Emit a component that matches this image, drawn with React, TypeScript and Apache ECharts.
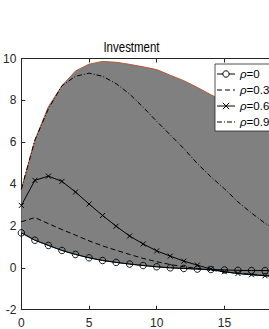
import React, { useEffect, useRef } from "react";
import * as echarts from "echarts";

const xs = [0, 1, 2, 3, 4, 5, 6, 7, 8, 9, 10, 11, 12, 13, 14, 15, 16, 17, 18, 19];
const rho0 = [1.67, 1.32, 1.07, 0.83, 0.64, 0.48, 0.35, 0.26, 0.18, 0.11, 0.05, 0.0, -0.03, -0.06, -0.08, -0.1, -0.12, -0.13, -0.13, -0.14];
const rho03 = [2.2, 2.4, 2.11, 1.83, 1.56, 1.29, 1.05, 0.84, 0.64, 0.45, 0.29, 0.16, 0.05, -0.03, -0.11, -0.19, -0.26, -0.31, -0.37, -0.41];
const rho06 = [2.98, 4.18, 4.38, 4.13, 3.62, 3.05, 2.5, 1.99, 1.52, 1.14, 0.81, 0.56, 0.32, 0.13, -0.06, -0.19, -0.27, -0.33, -0.38, -0.41];
const rho09 = [3.75, 6.1, 7.6, 8.7, 9.15, 9.3, 9.15, 8.8, 8.3, 7.67, 7.0, 6.35, 5.7, 4.98, 4.35, 3.78, 3.15, 2.62, 2.13, 1.7];
const bandHigh = [3.75, 6.1, 7.7, 8.7, 9.4, 9.73, 9.86, 9.82, 9.72, 9.6, 9.47, 9.2, 8.94, 8.62, 8.27, 7.95, 7.62, 7.3, 7.0, 6.7];
const bandLow = [1.67, 1.32, 1.07, 0.83, 0.64, 0.48, 0.35, 0.26, 0.18, 0.11, 0.05, 0.0, -0.03, -0.06, -0.1, -0.19, -0.27, -0.33, -0.38, -0.42];
const xTicks = { min: 0, max: 20, interval: 5 };
const yTicks = { min: -2, max: 10, interval: 2 };
const seriesNames = ["ρ=0", "ρ=0.3", "ρ=0.6", "ρ=0.9"];
const titleText = "Investment";

const FONT = "'Liberation Sans Narrow', 'Liberation Sans', Arial, sans-serif";
const AX = "#262626";

export default function App() {
  const ref = useRef<HTMLDivElement>(null);
  useEffect(() => {
    if (!ref.current) return;
    const chart = echarts.init(ref.current, undefined, { renderer: "svg" });
    const axisCommon = {
      axisLine: { show: true, onZero: false, lineStyle: { color: AX, width: 1 } },
      axisTick: { show: true, inside: true, length: 4, lineStyle: { color: AX } },
      splitLine: { show: false },
    };
    const lineSeries = (name: string, data: number[], extra: any) => ({
      name,
      type: "line",
      data: xs.map((x, i) => [x, data[i]]),
      lineStyle: { color: "#000", width: 1, ...(extra.lineStyle || {}) },
      itemStyle: { color: "#000", ...(extra.itemStyle || {}) },
      symbol: extra.symbol || "none",
      symbolSize: extra.symbolSize || 6,
      showSymbol: !!extra.symbol,
      z: 5,
      silent: true,
    });
    const hiddenMarker = { color: "rgba(0,0,0,0)", borderWidth: 0, borderColor: "rgba(0,0,0,0)" };
    chart.setOption({
      animation: false,
      textStyle: { fontFamily: FONT },
      grid: { left: 18.3, top: 58.5, width: 273.8, height: 251.2, containLabel: false },
      graphic: [
        {
          type: "text",
          x: 131.5,
          y: 47,
          scaleX: 0.82,
          style: { text: titleText, font: `14px ${FONT}`, fill: "#000", textAlign: "center", textVerticalAlign: "middle" },
        },
      ],
      xAxis: [
        {
          type: "value",
          position: "bottom",
          ...xTicks,
          ...axisCommon,
          axisLabel: { color: "#262626", fontSize: 12, fontFamily: FONT, margin: 7, showMaxLabel: false },
        },
        {
          type: "value",
          position: "top",
          ...xTicks,
          ...axisCommon,
          axisLabel: { show: false },
        },
      ],
      yAxis: [
        {
          type: "value",
          position: "left",
          ...yTicks,
          ...axisCommon,
          axisLabel: { color: "#262626", fontSize: 12, fontFamily: FONT, margin: 5 },
        },
        {
          type: "value",
          position: "right",
          ...yTicks,
          ...axisCommon,
          axisLabel: { show: false },
        },
      ],
      legend: {
        orient: "vertical",
        left: 215,
        top: 64,
        data: [
          { name: seriesNames[0], itemStyle: { color: "#fff", borderColor: "#000", borderWidth: 1 } },
          { name: seriesNames[1], itemStyle: hiddenMarker },
          { name: seriesNames[2], itemStyle: { color: "rgba(0,0,0,0)", borderColor: "#000", borderWidth: 1 } },
          { name: seriesNames[3], itemStyle: hiddenMarker },
        ],
        lineStyle: { width: 1 },
        backgroundColor: "#fff",
        borderColor: AX,
        borderWidth: 0.8,
        borderRadius: 0,
        padding: [3, 6, 2, 1.5],
        itemWidth: 18,
        itemHeight: 8,
        itemGap: 2,
        selectedMode: false,
        textStyle: {
          fontSize: 11.5,
          fontFamily: FONT,
          color: "#000",
          lineHeight: 14,
          rich: {
            i: { fontStyle: "italic", fontSize: 11.5, fontFamily: FONT, color: "#000" },
            n: { fontSize: 11.5, fontFamily: FONT, color: "#000" },
          },
        },
        formatter: (name: string) => `{i|ρ}{n|${name.slice(1)}}`,
        z: 20,
      },
      series: [
        {
          type: "custom",
          silent: true,
          z: 1,
          data: xs.map((x, i) => [x, bandHigh[i], bandLow[i]]),
          encode: { x: 0, y: [1, 2] },
          renderItem: (params: any, api: any) => {
            if (params.dataIndex !== 0) return null;
            const top = xs.map((x, i) => api.coord([x, bandHigh[i]]));
            const bot = xs.map((x, i) => api.coord([x, bandLow[i]]));
            return {
              type: "group",
              children: [
                { type: "polygon", shape: { points: [...top, ...bot.slice().reverse()] }, style: { fill: "#808080", stroke: "none" } },
                { type: "polyline", shape: { points: top }, style: { stroke: "#b8583a", lineWidth: 1, fill: null } },
                { type: "polyline", shape: { points: bot }, style: { stroke: "#1d3f5a", lineWidth: 1, fill: null } },
              ],
            };
          },
        },
        lineSeries(seriesNames[0], rho0, {
          symbol: "circle",
          symbolSize: 6.5,
          itemStyle: { color: "rgba(0,0,0,0)", borderColor: "#000", borderWidth: 0.9 },
        }),
        lineSeries(seriesNames[1], rho03, { lineStyle: { type: [5, 3] } }),
        lineSeries(seriesNames[2], rho06, {
          symbol: "path://M0,0L10,10M10,0L0,10",
          symbolSize: 5,
          itemStyle: { color: "rgba(0,0,0,0)", borderColor: "#000", borderWidth: 1 },
        }),
        lineSeries(seriesNames[3], rho09, { lineStyle: { type: [5, 2, 1, 2] } }),
      ],
    });
    return () => chart.dispose();
  }, []);
  return (
    <div style={{ position: "fixed", left: 0, top: 0, width: 269, height: 329, overflow: "hidden", background: "#fff" }}>
      <div ref={ref} style={{ width: 300, height: 329 }} />
    </div>
  );
}
